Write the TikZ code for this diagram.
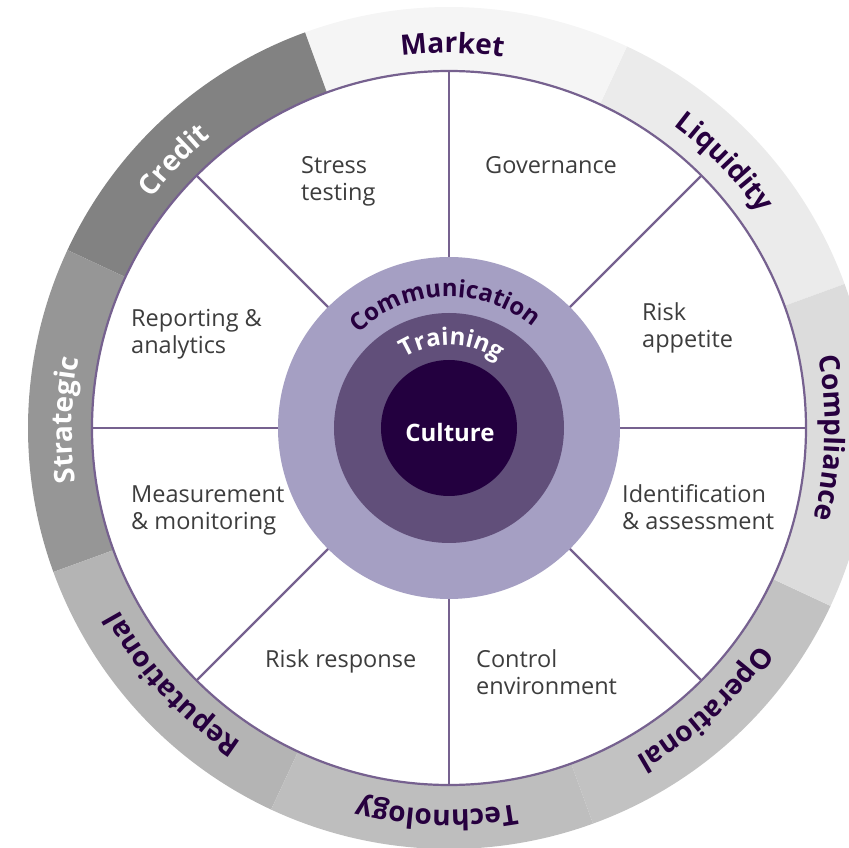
\documentclass[tikz,border=0pt]{standalone}
\usepackage{fontspec}
\setmainfont{Open Sans}
\usetikzlibrary{decorations.text}
\definecolor{spokec}{HTML}{76618F}
\definecolor{commc}{HTML}{A59FC3}
\definecolor{trainc}{HTML}{614F7A}
\definecolor{cultc}{HTML}{23003F}
\definecolor{inkc}{HTML}{27003F}
\definecolor{bodyc}{HTML}{3D3D3D}
\definecolor{segLiq}{HTML}{EBEBEB}
\definecolor{segMkt}{HTML}{F5F5F5}
\definecolor{segCre}{HTML}{828282}
\definecolor{segStr}{HTML}{969696}
\definecolor{segRep}{HTML}{B4B4B4}
\definecolor{segTec}{HTML}{BEBEBE}
\definecolor{segOpe}{HTML}{C2C2C2}
\definecolor{segCom}{HTML}{DCDCDC}
\newcommand\lblfont{\fontsize{28}{30}\selectfont\bfseries}
\newcommand\midfont{\fontsize{24}{28}\selectfont\bfseries}
\tikzset{
  bodytext/.style={font=\fontsize{23.5}{27}\selectfont, text=bodyc, inner sep=0pt, anchor=base west},
  spokeline/.style={draw=spokec, line width=2.2pt},
}
\newcommand\sector[3]{\fill[#3] (#1:357) arc[start angle=#1, end angle=#2, radius=357] -- (#2:421) arc[start angle=#2, end angle=#1, radius=421] -- cycle;}
\begin{document}
\begin{tikzpicture}[x=1pt,y=1pt]
\useasboundingbox (-449,-420) rectangle (400,428);
\clip (-449,-420) rectangle (400,428);
% outer ring
\sector{20}{65}{segLiq}
\sector{65}{110}{segMkt}
\sector{110}{155}{segCre}
\sector{155}{200}{segStr}
\sector{200}{245}{segRep}
\sector{245}{290}{segTec}
\sector{290}{335}{segOpe}
\sector{335}{380}{segCom}
% inner wheel
\coordinate (c) at (0,0);
\draw[spokeline, fill=white] (c) circle[radius=357];
\foreach \a in {0,45,...,315} \draw[spokeline] (c) -- (\a:357);
\fill[commc] (c) circle[radius=171];
\fill[trainc] (c) circle[radius=115];
\fill[cultc] (c) circle[radius=68];
% curved labels in the hub
\path[decorate, decoration={text along path, text={|\midfont|Communication}, text align=center, text color=inkc}]
  (162:131) arc[start angle=162, end angle=22, radius=131];
\path[decorate, decoration={text along path, text={|\midfont|Training}, text align=center, text color=white}]
  (148:83) arc[start angle=148, end angle=28, radius=83];
\node[font=\midfont, text=white, anchor=base, inner sep=0pt] (culture) at (1,-14) {Culture};
% outer ring labels
\path[decorate, decoration={text along path, text={|\lblfont|Market}, text align=center, text color=inkc}]
  (119.5:375) arc[start angle=119.5, end angle=59.5, radius=375];
\path[decorate, decoration={text along path, text={|\lblfont|Liquidity}, text align=center, text color=inkc}]
  (74:377) arc[start angle=74, end angle=14, radius=377];
\path[decorate, decoration={text along path, text={|\lblfont|Compliance}, text align=center, text color=inkc}]
  (28.5:376) arc[start angle=28.5, end angle=-31.5, radius=376];
\path[decorate, decoration={text along path, text={|\lblfont|Operational}, text align=center, text color=inkc}]
  (342.4:378) arc[start angle=342.4, end angle=282.4, radius=378];
\path[decorate, decoration={text along path, text={|\lblfont|Technology}, text align=center, text color=inkc}]
  (298.2:382) arc[start angle=298.2, end angle=238.2, radius=382];
\path[decorate, decoration={text along path, text={|\lblfont|Reputational}, text align=center, text color=inkc}]
  (252.8:377) arc[start angle=252.8, end angle=192.8, radius=377];
\path[decorate, decoration={text along path, text={|\lblfont|Strategic}, text align=center, text color=white}]
  (208.8:377) arc[start angle=208.8, end angle=148.8, radius=377];
\path[decorate, decoration={text along path, text={|\lblfont|Credit}, text align=center, text color=white}]
  (165.8:376) arc[start angle=165.8, end angle=105.8, radius=376];
% section texts
\node[bodytext] (stress) at (-148,254) {\begin{tabular}[t]{@{}l@{}}Stress\\testing\end{tabular}};
\node[bodytext] (gov) at (36,254) {Governance};
\node[bodytext] (appetite) at (193,107) {\begin{tabular}[t]{@{}l@{}}Risk\\appetite\end{tabular}};
\node[bodytext] (ident) at (173,-75) {\begin{tabular}[t]{@{}l@{}}Identification\\\& assessment\end{tabular}};
\node[bodytext] (control) at (27,-240) {\begin{tabular}[t]{@{}l@{}}Control\\environment\end{tabular}};
\node[bodytext] (response) at (-184,-240) {Risk response};
\node[bodytext] (measure) at (-318,-75) {\begin{tabular}[t]{@{}l@{}}Measurement\\\& monitoring\end{tabular}};
\node[bodytext] (report) at (-318,101) {\begin{tabular}[t]{@{}l@{}}Reporting \&\\analytics\end{tabular}};
\end{tikzpicture}
\end{document}
